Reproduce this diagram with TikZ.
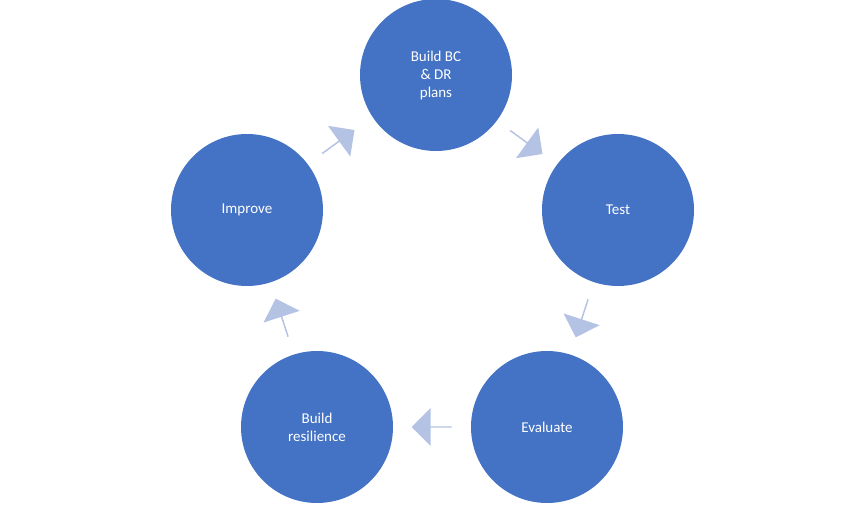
\documentclass[tikz,border=0pt]{standalone}
\usepackage{fontspec}
\setmainfont{Carlito}
\usetikzlibrary{shapes.arrows, positioning, calc}
\definecolor{cycle_blue}{HTML}{4472C4}
\definecolor{cycle_arrow}{HTML}{B4C3E3}
\tikzset{
  phase/.style={circle,fill=cycle_blue,text=white,minimum size=152pt,inner sep=0pt,
    align=center,font=\fontsize{15}{18}\selectfont},
  flow/.style={single arrow,fill=cycle_arrow,minimum height=40pt,minimum width=38pt,
    single arrow head extend=7pt,inner sep=0pt,shape border uses incircle},
}
\begin{document}
\begin{tikzpicture}[x=1pt,y=-1pt]
	    \useasboundingbox (0,0) rectangle (864,506);
	    \node[phase] (S1) at (436,75) {Build BC\\ \& DR\\ plans};
	    \node[phase] (S2) at (618,210) {Test};
	    \node[phase] (S3) at (547,427) {Evaluate};
	    \node[phase] (S4) at (317,427) {Build\\ resilience};
	    \node[phase] (S5) at (247,210) {Improve};
	    \node[flow,rotate=-36] (F1) at (526,142) {};
	    \node[flow,rotate=-108] (F2) at (582,318) {};
	    \node[flow,rotate=180] (F3) at (432,427) {};
	    \node[flow,rotate=108] (F4) at (282,318) {};
	    \node[flow,rotate=36] (F5) at (338,142) {};
	\end{tikzpicture}
\end{document}
